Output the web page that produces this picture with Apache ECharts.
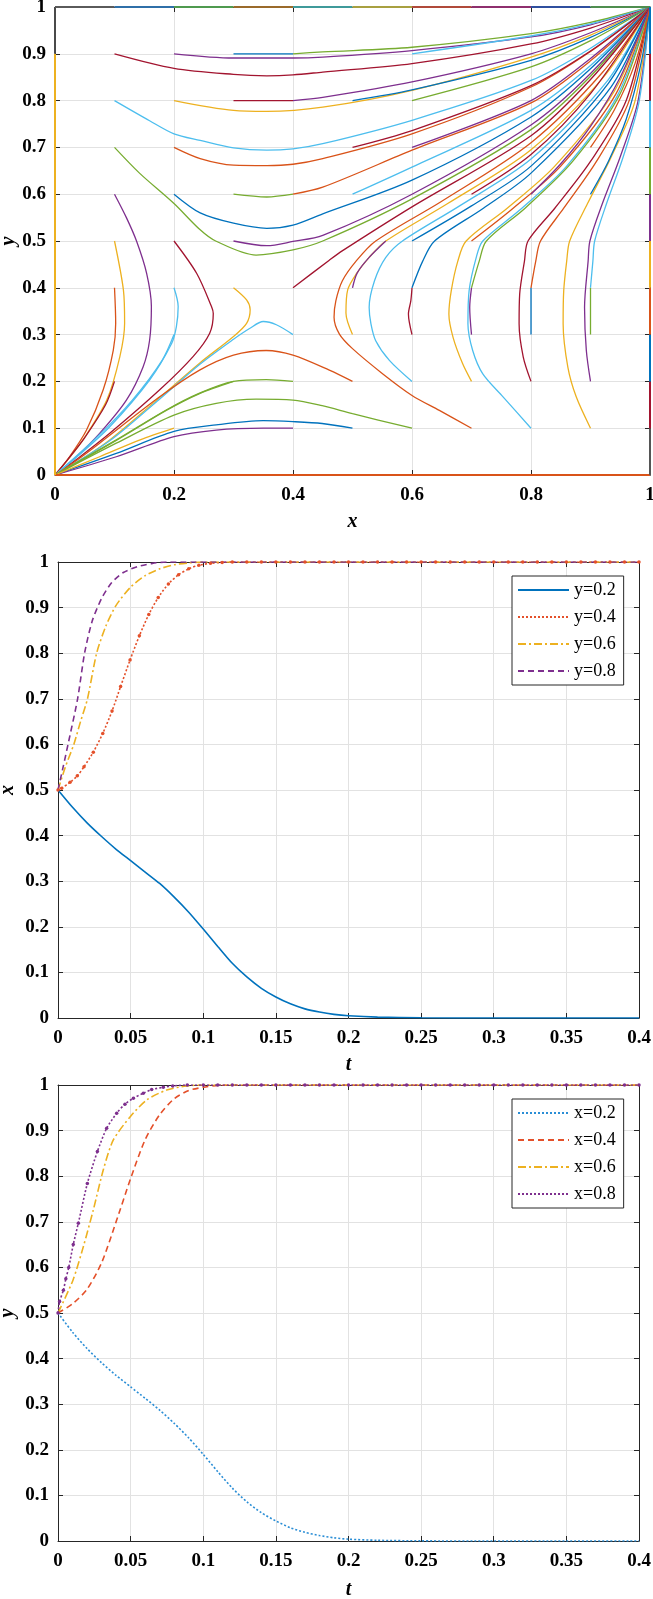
<!DOCTYPE html>
<html>
<head>
<meta charset="utf-8">
<script src="https://cdn.jsdelivr.net/npm/echarts@6/dist/echarts.min.js"></script>
<style>
  html, body { margin: 0; padding: 0; background: #fff; }
  #chart { width: 653px; height: 1599px; }
</style>
</head>
<body>
<div id="chart"></div>
<script>
// MATLAB default colour order
const palette = ['#0072BD', '#D95319', '#EDB120', '#7E2F8E', '#77AC30', '#4DBEEE', '#A2142F']

// ---- phase portrait: trajectories that end at (1,1) ----
const toOneTraj = [
  [[0.1,0.9],[0.2,0.869],[0.3,0.856],[0.356,0.853],[0.4,0.855],[0.45,0.861],[0.6,0.879],[0.8,0.921],[0.9,0.955],[1,1]],
  [[0.2,0.9],[0.3,0.891],[0.4,0.891],[0.45,0.893],[0.6,0.907],[0.8,0.936],[0.9,0.962],[1,1]],
  [[0.3,0.9],[0.4,0.9]],
  [[0.4,0.9],[0.45,0.904],[0.6,0.914],[0.8,0.943],[0.9,0.967],[1,1]],
  [[0.6,0.9],[0.8,0.938],[0.9,0.964],[1,1]],
  [[0.3,0.8],[0.4,0.8]],
  [[0.4,0.8],[0.45,0.807],[0.6,0.84],[0.8,0.9],[0.9,0.945],[1,1]],
  [[0.2,0.8],[0.3,0.779],[0.356,0.777],[0.45,0.786],[0.6,0.822],[0.8,0.893],[0.9,0.94],[1,1]],
  [[0.5,0.8],[0.6,0.823],[0.8,0.886],[0.9,0.935],[1,1]],
  [[0.6,0.8],[0.8,0.872],[0.9,0.928],[1,1]],
  [[0.1,0.8],[0.159,0.757],[0.2,0.729],[0.244,0.715],[0.3,0.699],[0.356,0.694],[0.4,0.697],[0.45,0.708],[0.6,0.758],[0.8,0.843],[0.9,0.912],[1,1]],
  [[0.2,0.7],[0.244,0.676],[0.3,0.662],[0.356,0.661],[0.4,0.664],[0.45,0.676],[0.6,0.729],[0.8,0.829],[0.9,0.905],[1,1]],
  [[0.5,0.7],[0.6,0.736],[0.8,0.832],[0.9,0.906],[1,1]],
  [[0.6,0.7],[0.8,0.8],[0.9,0.89],[1,1]],
  [[0.3,0.6],[0.356,0.594],[0.4,0.6]],
  [[0.4,0.6],[0.45,0.615],[0.6,0.694],[0.8,0.795],[0.9,0.885],[1,1]],
  [[0.5,0.6],[0.6,0.658],[0.8,0.779],[0.9,0.875],[1,1]],
  [[0.2,0.6],[0.244,0.56],[0.3,0.538],[0.356,0.527],[0.4,0.534],[0.45,0.558],[0.6,0.63],[0.8,0.765],[0.9,0.868],[1,1]],
  [[0.3,0.5],[0.356,0.49],[0.4,0.499],[0.45,0.512],[0.6,0.6],[0.8,0.748],[0.9,0.858],[1,1]],
  [[0.1,0.7],[0.142,0.645],[0.2,0.58],[0.243,0.525],[0.27,0.5],[0.338,0.47],[0.4,0.481],[0.45,0.5],[0.6,0.59],[0.8,0.738],[0.9,0.852],[1,1]],
  [[0.4,0.4],[0.461,0.459],[0.484,0.48],[0.6,0.573],[0.8,0.725],[0.9,0.845],[1,1]],
  [[0.7,0.1],[0.646,0.138],[0.6,0.17],[0.551,0.216],[0.5,0.27],[0.478,0.301],[0.469,0.337],[0.472,0.372],[0.483,0.415],[0.506,0.457],[0.539,0.5],[0.65,0.585],[0.8,0.71],[0.92,0.86],[1,1]],
  [[0.5,0.3],[0.489,0.346],[0.492,0.396],[0.506,0.429],[0.528,0.465],[0.556,0.5],[0.66,0.58],[0.8,0.695],[0.925,0.855],[1,1]],
  [[0.5,0.4],[0.508,0.432],[0.528,0.465],[0.556,0.5]],
  [[0.6,0.2],[0.562,0.245],[0.539,0.287],[0.531,0.323],[0.528,0.358],[0.537,0.415],[0.556,0.465],[0.584,0.5],[0.68,0.575],[0.8,0.675],[0.93,0.845],[1,1]],
  [[0.6,0.3],[0.594,0.344],[0.598,0.372],[0.6,0.4]],
  [[0.6,0.4],[0.618,0.457],[0.638,0.5],[0.72,0.57],[0.8,0.645],[0.935,0.83],[1,1]],
  [[0.6,0.5],[0.7,0.575],[0.8,0.66],[0.93,0.837],[1,1]],
  [[0.7,0.2],[0.685,0.238],[0.669,0.294],[0.662,0.344],[0.666,0.394],[0.677,0.457],[0.691,0.5],[0.76,0.57],[0.84,0.66],[0.94,0.82],[1,1]],
  [[0.7,0.5],[0.77,0.57],[0.85,0.66],[0.943,0.815],[1,1]],
  [[0.8,0.1],[0.753,0.167],[0.719,0.216],[0.702,0.266],[0.694,0.323],[0.696,0.394],[0.708,0.465],[0.719,0.5],[0.78,0.565],[0.86,0.66],[0.945,0.81],[1,1]],
  [[0.7,0.3],[0.697,0.358],[0.7,0.4]],
  [[0.7,0.4],[0.713,0.457],[0.725,0.5],[0.79,0.57],[0.87,0.67],[0.95,0.815],[1,1]],
  [[0.8,0.2],[0.787,0.252],[0.78,0.323],[0.781,0.387],[0.789,0.457],[0.795,0.5],[0.84,0.57],[0.9,0.67],[0.96,0.8],[1,1]],
  [[0.8,0.3],[0.8,0.358],[0.8,0.4]],
  [[0.8,0.4],[0.808,0.457],[0.816,0.5],[0.855,0.57],[0.91,0.67],[0.965,0.8],[1,1]],
  [[0.9,0.1],[0.876,0.167],[0.862,0.23],[0.854,0.323],[0.855,0.394],[0.86,0.457],[0.865,0.5],[0.895,0.58],[0.935,0.68],[0.975,0.8],[1,1]],
  [[0.9,0.2],[0.893,0.266],[0.89,0.358],[0.896,0.457],[0.899,0.5],[0.92,0.58],[0.95,0.68],[0.98,0.8],[1,1]],
  [[0.9,0.3],[0.9,0.4]],
  [[0.9,0.4],[0.904,0.457],[0.907,0.5],[0.927,0.58],[0.955,0.68],[0.982,0.8],[1,1]],
  [[0.7,0.6],[0.8,0.685],[0.9,0.815],[1,1]],
  [[0.8,0.6],[0.85,0.665],[0.9,0.745],[0.95,0.85],[1,1]],
  [[0.9,0.6],[0.93,0.67],[0.96,0.76],[0.985,0.88],[1,1]],
  [[0.9,0.7],[0.94,0.78],[0.975,0.88],[1,1]]
]
const toOneColors = [6,3,0,4,5,6,3,2,0,4,5,1,6,3,4,1,5,0,3,4,6,1,2,3,5,6,0,0,2,1,5,3,4,6,0,1,2,3,4,5,6,3,0,1]

// ---- phase portrait: trajectories that end at (0,0) ----
const toZeroTraj = [
  [[0.1,0.6],[0.12,0.55],[0.137,0.5],[0.154,0.431],[0.162,0.36],[0.159,0.288],[0.148,0.231],[0.12,0.16],[0.075,0.089],[0.035,0.038],[0,0]],
  [[0.1,0.5],[0.115,0.395],[0.117,0.324],[0.109,0.253],[0.087,0.16],[0.047,0.075],[0.02,0.03],[0,0]],
  [[0.1,0.4],[0.102,0.324],[0.098,0.267],[0.081,0.182],[0.053,0.096],[0.025,0.04],[0,0]],
  [[0.1,0.2],[0.085,0.15],[0.05,0.08],[0.022,0.034],[0,0]],
  [[0.2,0.5],[0.238,0.431],[0.263,0.36],[0.266,0.345],[0.26,0.303],[0.232,0.253],[0.176,0.182],[0.092,0.089],[0.04,0.037],[0,0]],
  [[0.2,0.4],[0.207,0.36],[0.204,0.317],[0.196,0.281],[0.159,0.203],[0.092,0.103],[0.04,0.042],[0,0]],
  [[0.2,0.3],[0.18,0.245],[0.13,0.16],[0.07,0.08],[0,0]],
  [[0.3,0.4],[0.322,0.374],[0.328,0.353],[0.322,0.324],[0.3,0.296],[0.243,0.239],[0.171,0.16],[0.092,0.075],[0.04,0.03],[0,0]],
  [[0.4,0.3],[0.372,0.321],[0.35,0.328],[0.327,0.313],[0.3,0.29],[0.243,0.236],[0.171,0.157],[0.092,0.073],[0,0]],
  [[0.5,0.2],[0.461,0.224],[0.4,0.256],[0.355,0.266],[0.3,0.256],[0.243,0.224],[0.176,0.167],[0.075,0.068],[0.035,0.03],[0,0]],
  [[0.4,0.2],[0.355,0.204],[0.3,0.2],[0.243,0.175],[0.187,0.139],[0.103,0.075],[0,0]],
  [[0.3,0.2],[0.243,0.174],[0.187,0.138],[0.103,0.074],[0,0]],
  [[0.6,0.1],[0.5,0.131],[0.449,0.148],[0.4,0.16],[0.338,0.162],[0.271,0.153],[0.2,0.128],[0.103,0.068],[0,0]],
  [[0.5,0.1],[0.449,0.11],[0.4,0.114],[0.35,0.116],[0.271,0.107],[0.2,0.093],[0.103,0.046],[0,0]],
  [[0.4,0.1],[0.35,0.1],[0.271,0.096],[0.2,0.082],[0.103,0.039],[0,0]],
  [[0.2,0.1],[0.143,0.075],[0.075,0.039],[0,0]]
]
const toZeroColors = [3,2,1,6,6,5,5,2,5,1,4,4,4,0,3,2]

// coloured trajectories lying on the border of the unit square
const edgeStops = [0,0.1,0.2,0.3,0.4,0.5,0.6,0.7,0.8,0.9,1]
const topEdgeColors = ['#5a5a5a','#2f6fa8','#4f9a4f','#9a6a2a','#3f9a9a','#a8a040','#b04a3a','#8e2f6e','#2f4f9e','#4f8e4f']
const rightEdgeColors = ['#555555','#A2142F','#0072BD','#D95319','#EDB120','#7E2F8E','#77AC30','#4DBEEE','#A2142F','#0072BD']

// ---- x(t) for fixed y ----
const xNames = ['y=0.2', 'y=0.4', 'y=0.6', 'y=0.8']
const xY02 = [[0,0.5],[0.01,0.462],[0.02,0.428],[0.03,0.398],[0.04,0.37],[0.05,0.345],[0.06,0.32],[0.07,0.295],[0.08,0.265],[0.09,0.232],[0.1,0.195],[0.11,0.157],[0.12,0.12],[0.13,0.09],[0.14,0.065],[0.15,0.046],[0.16,0.031],[0.17,0.02],[0.18,0.013],[0.19,0.008],[0.2,0.005],[0.22,0.002],[0.25,0.0005],[0.3,0],[0.35,0],[0.4,0]]
const xY04 = [[0,0.5],[0.0025,0.504],[0.0083,0.517],[0.0133,0.531],[0.0179,0.551],[0.0243,0.583],[0.0308,0.624],[0.0372,0.673],[0.0431,0.727],[0.0496,0.785],[0.056,0.838],[0.0625,0.885],[0.069,0.922],[0.076,0.952],[0.083,0.972],[0.09,0.985],[0.097,0.993],[0.105,0.997],[0.113,0.999],[0.12,1],[0.13,1],[0.14,1],[0.15,1],[0.16,1],[0.17,1],[0.18,1],[0.19,1],[0.2,1],[0.21,1],[0.22,1],[0.23,1],[0.24,1],[0.25,1],[0.26,1],[0.27,1],[0.28,1],[0.29,1],[0.3,1],[0.31,1],[0.32,1],[0.33,1],[0.34,1],[0.35,1],[0.36,1],[0.37,1],[0.38,1],[0.39,1],[0.4,1]]
const xY06 = [[0,0.5],[0.005,0.55],[0.0109,0.6],[0.0155,0.65],[0.0203,0.7],[0.0266,0.8],[0.033,0.86],[0.04,0.905],[0.05,0.945],[0.06,0.97],[0.07,0.985],[0.08,0.994],[0.09,0.998],[0.1,1],[0.4,1]]
const xY08 = [[0,0.5],[0.0035,0.55],[0.0069,0.6],[0.0135,0.7],[0.0183,0.8],[0.0235,0.87],[0.03,0.92],[0.037,0.955],[0.045,0.977],[0.055,0.99],[0.065,0.997],[0.075,1],[0.4,1]]

// ---- y(t) for fixed x ----
const yNames = ['x=0.2', 'x=0.4', 'x=0.6', 'x=0.8']
const yX02 = [[0,0.5],[0.01,0.458],[0.02,0.422],[0.03,0.391],[0.04,0.363],[0.05,0.338],[0.06,0.313],[0.07,0.287],[0.08,0.258],[0.09,0.226],[0.1,0.19],[0.11,0.152],[0.12,0.116],[0.13,0.086],[0.14,0.062],[0.15,0.044],[0.16,0.029],[0.17,0.019],[0.18,0.012],[0.19,0.007],[0.2,0.004],[0.22,0.0015],[0.25,0.0003],[0.3,0],[0.35,0],[0.4,0]]
const yX04 = [[0,0.5],[0.01,0.52],[0.02,0.552],[0.03,0.61],[0.04,0.7],[0.05,0.795],[0.06,0.88],[0.07,0.935],[0.08,0.97],[0.09,0.988],[0.1,0.995],[0.11,0.999],[0.12,1],[0.4,1]]
const yX06 = [[0,0.5],[0.0103,0.572],[0.0174,0.645],[0.0243,0.726],[0.0312,0.814],[0.038,0.879],[0.0496,0.93],[0.061,0.967],[0.0748,0.989],[0.0886,0.998],[0.1,1],[0.4,1]]
const yX08 = [[0,0.5],[0.0011,0.525],[0.0037,0.55],[0.0054,0.575],[0.0074,0.6],[0.0105,0.65],[0.014,0.697],[0.0202,0.784],[0.0271,0.854],[0.0335,0.905],[0.0404,0.938],[0.0461,0.958],[0.0519,0.971],[0.0587,0.982],[0.0645,0.99],[0.0725,0.995],[0.079,0.998],[0.089,1],[0.1,1],[0.11,1],[0.12,1],[0.13,1],[0.14,1],[0.15,1],[0.16,1],[0.17,1],[0.18,1],[0.19,1],[0.2,1],[0.21,1],[0.22,1],[0.23,1],[0.24,1],[0.25,1],[0.26,1],[0.27,1],[0.28,1],[0.29,1],[0.3,1],[0.31,1],[0.32,1],[0.33,1],[0.34,1],[0.35,1],[0.36,1],[0.37,1],[0.38,1],[0.39,1],[0.4,1]]

const chart = echarts.init(document.getElementById('chart'))

const axisColor = '#262626'
const gridColor = '#e2e2e2'
const tickFont = { fontFamily: 'Liberation Serif', fontWeight: 'bold', fontSize: 19, color: '#000' }
const nameFont = { fontFamily: 'Liberation Serif', fontWeight: 'bold', fontStyle: 'italic', fontSize: 20, color: '#000' }

// main (labelled) axis
const mainAxis = (gridIndex, position, max, interval, name, nameGap) => ({
  type: 'value', gridIndex, position, min: 0, max, interval,
  name, nameLocation: 'middle', nameGap, nameTextStyle: nameFont, nameMoveOverlap: false,
  axisLine: { show: true, onZero: false, lineStyle: { color: axisColor, width: 1 } },
  axisTick: { show: true, inside: true, length: 5, lineStyle: { color: axisColor } },
  axisLabel: Object.assign({ margin: position === 'bottom' ? 11 : 9 }, tickFont),
  splitLine: { show: true, lineStyle: { color: gridColor, width: 1 } }
})
// mirrored box edge with ticks only
const mirrorAxis = (gridIndex, position, max, interval) => ({
  type: 'value', gridIndex, position, min: 0, max, interval,
  axisLine: { show: true, onZero: false, lineStyle: { color: axisColor, width: 1 } },
  axisTick: { show: true, inside: true, length: 5, lineStyle: { color: axisColor } },
  axisLabel: { show: false },
  splitLine: { show: false }
})

const series = []

// trajectories
toOneTraj.forEach((pts, i) => {
  series.push({
    type: 'line', xAxisIndex: 0, yAxisIndex: 0, data: pts, smooth: 0.3,
    symbol: 'none', silent: true,
    lineStyle: { color: palette[toOneColors[i]], width: 1.3 }
  })
})
toZeroTraj.forEach((pts, i) => {
  series.push({
    type: 'line', xAxisIndex: 0, yAxisIndex: 0, data: pts, smooth: 0.3,
    symbol: 'none', silent: true,
    lineStyle: { color: palette[toZeroColors[i]], width: 1.3 }
  })
})
// border trajectories
const edgeLine = (pts, color) => ({
  type: 'line', xAxisIndex: 0, yAxisIndex: 0, data: pts, symbol: 'none',
  silent: true, clip: false, z: 5, lineStyle: { color, width: 2 }
})
series.push(edgeLine([[0, 0], [1, 0]], '#D95319'))
series.push(edgeLine([[0, 0], [0, 0.9]], '#EDB120'))
series.push(edgeLine([[0, 0.9], [0, 1]], '#4a4a4a'))
for (let i = 0; i < edgeStops.length - 1; i++) {
  series.push(edgeLine([[edgeStops[i], 1], [edgeStops[i + 1], 1]], topEdgeColors[i]))
  series.push(edgeLine([[1, edgeStops[i]], [1, edgeStops[i + 1]]], rightEdgeColors[i]))
}

// time series panels
const tLine = (name, data, xi, color, type, marker) => ({
  name, type: 'line', xAxisIndex: xi, yAxisIndex: xi, data,
  smooth: 0.25, silent: true,
  symbol: marker ? 'circle' : 'none', symbolSize: 3.5, showSymbol: !!marker,
  itemStyle: { color },
  lineStyle: { color, width: 1.6, type }
})
series.push(tLine(xNames[0], xY02, 2, '#0072BD', 'solid', false))
series.push(tLine(xNames[1], xY04, 2, '#E4502A', [2, 2], true))
series.push(tLine(xNames[2], xY06, 2, '#EDB120', [8, 3, 2, 3], false))
series.push(tLine(xNames[3], xY08, 2, '#7E2F8E', [6, 4], false))

series.push(tLine(yNames[0], yX02, 4, '#2A8ED6', [2, 2], false))
series.push(tLine(yNames[1], yX04, 4, '#E4502A', [6, 4], false))
series.push(tLine(yNames[2], yX06, 4, '#EDB120', [8, 3, 2, 3], false))
series.push(tLine(yNames[3], yX08, 4, '#7E2F8E', [2, 2], true))

const legendBase = {
  orient: 'vertical', left: 512, itemWidth: 51, itemHeight: 14, itemGap: 9,
  padding: [5, 8, 5, 5], borderColor: axisColor, borderWidth: 1,
  backgroundColor: '#fff', selectedMode: false,
  itemStyle: { opacity: 0 },
  textStyle: { fontFamily: 'Liberation Serif', fontSize: 18, color: '#000' }
}

const option = {
  animation: false,
  backgroundColor: '#fff',
  grid: [
    { left: 55, top: 7, width: 595, height: 468, outerBoundsMode: 'none' },
    { left: 58, top: 562, width: 581, height: 456, outerBoundsMode: 'none' },
    { left: 58, top: 1085, width: 581, height: 456, outerBoundsMode: 'none' }
  ],
  xAxis: [
    mainAxis(0, 'bottom', 1, 0.2, 'x', 37),
    mirrorAxis(0, 'top', 1, 0.2),
    mainAxis(1, 'bottom', 0.4, 0.05, 't', 37),
    mirrorAxis(1, 'top', 0.4, 0.05),
    mainAxis(2, 'bottom', 0.4, 0.05, 't', 39),
    mirrorAxis(2, 'top', 0.4, 0.05)
  ],
  yAxis: [
    mainAxis(0, 'left', 1, 0.1, 'y', 36),
    mirrorAxis(0, 'right', 1, 0.1),
    mainAxis(1, 'left', 1, 0.1, 'x', 40),
    mirrorAxis(1, 'right', 1, 0.1),
    mainAxis(2, 'left', 1, 0.1, 'y', 40),
    mirrorAxis(2, 'right', 1, 0.1)
  ],
  legend: [
    Object.assign({}, legendBase, { top: 576, data: xNames }),
    Object.assign({}, legendBase, { top: 1099, data: yNames })
  ],
  series
}

chart.setOption(option)
</script>
</body>
</html>
